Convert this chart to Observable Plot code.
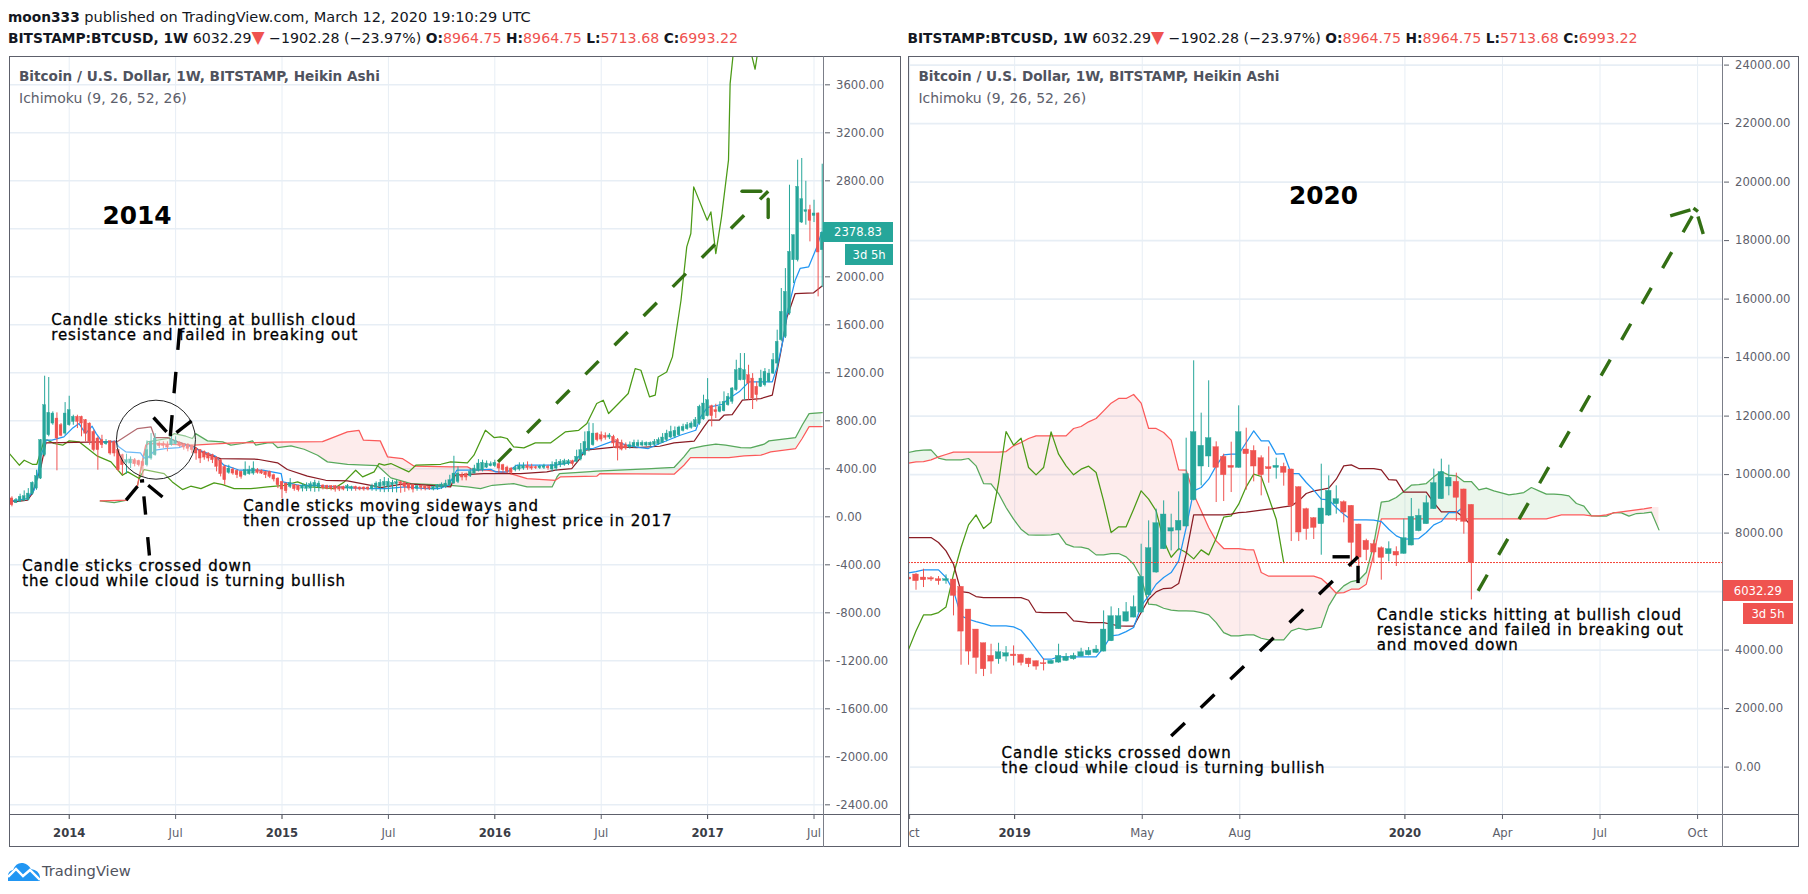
<!DOCTYPE html>
<html><head><meta charset="utf-8">
<script src="https://cdn.jsdelivr.net/npm/d3@7"></script>
<script src="https://cdn.jsdelivr.net/npm/@observablehq/plot@0.6"></script>
<style>
html,body{margin:0;padding:0;background:#fff;width:1808px;height:894px;overflow:hidden;font-family:"DejaVu Sans",sans-serif}
.t{position:absolute;white-space:nowrap;line-height:1;transform:translateY(-50%)}
.b{position:absolute;background:#5d606b}
.tag{position:absolute;color:#fff;font-size:11.6px;display:flex;align-items:center;justify-content:center}
.note{letter-spacing:.88px}
.h b{font-size:13.75px}
.tri{font-size:17px;line-height:0}
</style></head><body>
<script>
// ---------- LEFT PANEL (2014) : [open, high, low, close], week 0 = first bar of 2014
const leftFirstWeek=-14;
const leftCandles=[[151,165,81,95],[114,151,109,137],[123,187,117,165],[131,215,128,170],[137,234,131,192],[187,290,178,282],[234,388,220,338],[318,645,310,640],[514,1176,500,933],[681,1165,668,869],[779,877,765,863],[821,869,383,654],[765,779,668,676],[695,955,681,863],[765,1008,757,891],[793,849,765,835],[835,849,737,793],[835,841,668,779],[807,813,626,695],[779,785,598,626],[709,723,542,556],[654,668,388,556],[640,681,570,598],[606,645,598,626],[631,634,514,528],[626,634,500,528],[556,562,374,388],[514,522,346,430],[450,522,355,472],[444,500,402,478],[472,486,416,438],[466,472,416,430],[458,466,332,422],[430,634,416,556],[486,695,472,626],[514,695,506,654],[612,626,570,590],[606,626,570,590],[598,626,542,578],[598,681,590,645],[606,668,598,634],[618,626,578,590],[606,612,556,578],[598,612,542,567],[590,598,528,556],[570,578,472,528],[556,562,444,486],[542,550,472,494],[528,534,458,486],[514,522,444,472],[494,500,374,416],[472,478,332,355],[416,430,262,304],
[366,430,355,402],[394,408,346,360],[383,391,318,346],[374,380,313,332],[346,458,338,388],[355,422,346,388],[360,458,346,402],[388,402,355,366],[383,391,352,360],[374,380,318,346],[374,380,318,332],[346,355,290,310],[318,324,234,262],[290,296,150,226],[276,282,192,212],[248,318,234,282],[262,268,212,229],[257,262,206,220],[234,276,206,254],[232,282,209,257],[234,290,207,271],[248,304,203,282],[243,296,206,276],[260,265,223,237],[257,262,223,232],[254,260,215,232],[254,260,204,226],[248,254,209,226],[248,254,215,226],[234,268,209,254],[232,254,212,248],[248,254,212,232],[243,248,215,226],[243,248,212,226],[243,248,215,226],[232,271,212,254],[240,290,209,276],[248,310,203,282],[257,327,200,290],[248,318,203,290],[262,304,200,282],[271,304,198,287],[287,296,195,271],[282,290,203,248],[271,276,215,234],[262,268,198,226],[232,262,212,254],[257,262,215,240],[251,257,215,232],[248,254,218,232],[226,254,215,248],[237,268,220,260],[243,282,226,268],[248,304,234,276],[262,346,257,304],[276,505,270,360],[290,416,276,360],
[346,366,299,327],[355,363,299,327],[338,402,327,374],[360,430,355,402],[382,477,374,444],[388,472,374,450],[410,466,402,444],[422,458,416,438],[422,472,410,450],[438,450,360,402],[430,438,366,388],[410,422,360,374],[402,410,346,366],[388,430,374,405],[394,450,380,422],[402,450,388,422],[422,458,388,405],[416,438,388,402],[413,424,394,405],[405,430,394,419],[408,438,394,422],[416,430,388,405],[394,458,374,430],[402,477,380,450],[430,477,410,458],[433,480,422,463],[438,477,427,463],[463,472,422,438],[458,556,450,500],[478,612,466,556],[514,709,506,625],[556,785,542,709],[598,779,589,695],[695,701,626,640],[681,709,626,645],[676,701,640,659],[662,695,645,679],[668,681,570,612],[640,654,466,570],[617,640,550,561],[597,617,556,570],[578,625,564,597],[584,640,570,617],[589,640,578,617],[595,634,584,617],[595,625,584,617],[595,625,584,617],[600,645,589,625],[606,659,598,640],[617,695,612,662],[640,723,626,695],[662,757,653,709],[668,751,653,718],[681,757,673,746],
[718,774,709,751],[732,788,723,765],[743,793,732,779],[751,830,746,807],[779,933,765,919],[813,1017,807,947],[841,1156,835,975],[925,933,751,841],[891,941,821,874],[877,961,869,919],[883,1045,877,961],[933,1031,925,1003],[961,1081,941,1073],[1059,1310,1050,1226],[1142,1366,1137,1240],[1142,1366,975,1226],[1184,1268,975,1114],[1156,1198,897,989],[1087,1128,961,1017],[1087,1226,1081,1156],[1100,1240,1087,1212],[1128,1232,1120,1198],[1198,1366,1190,1310],[1282,1562,1226,1464],[1478,1911,1464,1715],[1506,2078,1492,1883],[1701,2777,1687,2218],[2148,2358,1953,2358],[2148,2987,2134,2763],[2464,3001,2456,2660],[2553,2810,2442,2567],[2567,2609,2302,2478],[2520,2651,2464,2540],[2540,2545,1841,2213],[2232,2953,1919,2378.83]];
const leftTicks=[0,26,52,78,104,130,156,182];
const leftTickLabels=["2014","Jul","2015","Jul","2016","Jul","2017","Jul"];
const leftPriceTicks=[-2400,-2000,-1600,-1200,-800,-400,0,400,800,1200,1600,2000,2400,2800,3200,3600];
const leftPriceHidden=[2400];
const leftTenkanW=[-15,-10.3,-8.6,-7.8,-7,-5.6,-4.2,-1.3,0.7,2.4,4,5.6,6.6,8.1,9.3,11.3,12.1,13.8,17.4,18.2,19,21,23.5,26.8,28.4,30,31.7,35.7,37.8,39.2,41.6,47.3,51.8,52.2,56.2,60.3,65.1,69.2,73.3,77.3,82.2,87.1,90.3,92.7,94.7,98.1,103,104.2,107,109.4,118.8,123.2,126.5,128,133,136.2,139.5,141.5,144.3,149.3,153.1,154.3,155.9,159.6,161.2,163.7,166.1,171.8,173,174.6,175.4,177.4,178.6,180.7,182.7,183.9];
const leftTenkanP=[123,151,220,332,500,640,640,668,737,779,695,757,695,626,626,631,584,542,533,494,486,556,570,578,598,584,556,506,430,416,388,388,360,290,262,262,248,240,234,234,248,234,234,262,388,388,396,374,374,430,430,458,570,570,634,598,578,570,612,681,723,835,913,941,989,1045,1129,1129,1254,1506,1701,1981,2079,2093,2260,2386];
const leftKijunW=[-14.6,-13.4,-10.2,-9,-6.9,-5.7,11.8,16.7,20,20.9,24,26.5,30.5,33,37,46,50.9,53.3,58.2,62.7,68,73.7,76.1,82.2,93.2,94.3,101.3,110.3,116.7,118.8,122.8,124.5,126.1,129.7,133.8,138.7,144.3,147.8,152.7,155.1,156.3,158.8,160,162,164.5,169,171.8,173.8,175.4,177.4,181.9,183.9];
const leftKijunP=[156,123,137,193,416,617,628,737,751,662,662,626,584,528,486,480,450,394,338,304,299,262,243,276,248,346,360,360,374,388,402,472,556,570,584,578,589,617,631,751,807,807,849,855,975,989,1017,1366,1673,1869,1875,1931];
const leftLagW=[-14.6,-12.2,-11,-9,-7.9,-6.1,-5.3,-3.7,-1.6,0,2.4,4.5,6.9,10.2,13,14.3,17.1,18.3,23.2,25.2,27.7,29.7,32.2,35.4,37.5,40.3,44.4,48.5,52.5,55.8,59,64.7,67.2,70,71.7,74.5,75.7,77,78.6,83,84.7,90.8,93.2,97.3,98.9,101.7,103.8,105.4,107,108.6,111.1,113.9,117.6,121.2,124.5,126.5,128.9,130.5,131.8,133.8,136.6,138.3,139.7,141.8,143.2,143.9,146,147.4,149.5,150.9,151.9,152.6,155.9,156.8,158,159.4,161.1,161.5,162.2,164,166,166.8,167.6,168.1,170];
const leftLagP=[528,430,472,438,438,640,640,612,598,634,626,570,506,458,346,374,318,394,360,290,226,254,234,282,268,234,234,248,262,290,248,234,290,388,332,374,444,430,444,374,430,438,458,450,514,723,662,668,654,584,575,617,617,709,723,779,947,975,863,933,1031,1240,1226,1003,1017,1170,1212,1338,1813,2260,2372,2763,2484,2553,2204,2512,2987,3629,3861,4300,4300,3861,3749,3861,4300];
const leftSpanAW=[7.6,11,14.1,16.7,18.2,19.1,24,25.7,28.5,30.1,30.9,33.8,37.5,39.5,42.3,44.8,45.6,48.5,49.7,50.9,54.2,57.4,60.7,63.1,68,75.3,78.6,83.5,93.2,97.3,100.5,103.4,108.6,111.9,118,119.2,119.8,126.5,128.9,141.1,147.8,150.2,151.8,155.1,158,160.4,164.1,166.5,169.8,171,177.5,179.1,180.8,184];
const leftSpanAP=[131,117,137,262,500,626,654,695,673,654,695,634,626,598,612,634,598,617,617,578,592,564,514,458,438,427,324,276,262,248,234,262,276,248,248,332,360,374,380,400,411,500,570,592,606,598,578,575,606,634,662,765,863,871];
const leftSpanBW=[7.6,14.1,16.7,17.9,18.7,19.5,30.5,34.6,40.3,50.1,61.9,68,70.8,71.9,76,77.8,81.4,84.3,93.2,97.3,98.9,102.1,107.8,111.9,118.8,120,128.9,129.7,147.8,150.2,151.8,161.2,164.9,169,171.4,177.5,179.1,180.8,184];
const leftSpanBP=[131,137,262,472,598,612,598,606,617,623,628,709,723,640,634,500,486,422,416,416,388,388,360,318,304,332,338,360,355,430,494,494,508,514,542,570,654,754,754];
const leftCircleWeek=[21.2], leftCirclePrice=[644];
const leftBullArrowW=[104.8,170.8], leftBullArrowP=[458,2727];
const leftBullHead1W=[164.4,169], leftBullHead1P=[2727,2727];
const leftBullHead2W=[170.8,170.8], leftBullHead2P=[2506,2660];
const leftTopArrowW=[27,24.7], leftTopArrowP=[1576,675];
const leftTopHeads=[[20.6,830,23.8,709],[29.9,801,26.2,704]];
const leftLowArrowW=[19.6,17.9], leftLowArrowP=[-327,296];
const leftLowHeads=[[13.9,137,16.7,254],[22.8,164,19.3,262],[17.3,297,18.3,300]];
const leftNotes=[["Candle sticks hitting at bullish cloud",-4.4,1645],["resistance and failed in breaking out",-4.4,1520],["Candle sticks moving sideways and",42.5,86],["then crossed up the cloud for highest price in 2017",42.5,-39],["Candle sticks crossed down",-11.5,-417],["the cloud while cloud is turning bullish",-11.5,-542]];

// ---------- RIGHT PANEL (2020) : [open, high, low, close], week 0 = first bar of 2019
const rightFirstWeek=-14;
const rightCandles=[[6480,6537,6309,6412],[6583,6617,6047,6355],[6480,6765,6138,6389],[6457,6514,6343,6412],[6423,6514,6218,6355],[6366,6571,6252,6423],[6412,6412,5169,5853],[6161,6161,3482,4633],[5386,5386,3482,3949],[4702,4702,3174,3733],[4234,4234,3094,3345],[3801,4200,3174,3607],[3687,4234,3516,3926],[3778,4120,3596,3892],[3847,4143,3459,3790],[3835,3858,3459,3562],[3710,3721,3402,3516],[3619,3630,3311,3436],[3550,3710,3288,3516],[3527,3653,3516,3630],[3573,4200,3550,3801],[3630,3881,3607,3767],[3687,3892,3653,3801],[3778,4063,3767,3926],[3824,4086,3801,3972],[3904,4154,3881,4018],[3949,5340,3938,4702],[4303,5477,4291,5158],[4713,5420,4713,5158],[4975,5625,4964,5294],[5112,5853,5101,5465],[5283,7620,5272,6503],[5876,8418,5853,7483],[6651,8817,6628,8338],[7449,9102,7437,8635],[8053,8646,7392,8167],[8087,9410,7392,8418],[8224,11245,8213,10014],[9125,13890,9102,11450],[10276,12100,9615,10983],[10618,13206,10242,11245],[10937,11120,9045,10231],[10607,10698,9079,9980],[10299,11108,9387,10231],[10231,12351,10219,11450],[10858,11587,9467,10698],[10812,10983,9752,10276],[10561,10641,9273,9980],[10253,10949,9706,10185],[10231,10561,9843,10299],[10265,10390,9604,10060],[10174,10185,7711,8931],[9569,9581,7711,8019],[8817,8851,7757,8133],[8509,8532,7780,8179],[8304,10356,7244,8840],[8600,9957,8566,9444],[8988,9615,8646,9159],[9056,9102,8350,8703],[8931,8942,6822,7666],[8293,8304,6765,7164],[7735,7792,7051,7416],[7621,7758,6994,7336],[7484,7530,6390,7154],[7279,7701,7017,7450],[7359,7530,6857,7233],[7290,8476,7279,7826],[7575,9183,7564,8556],[8066,8818,8043,8590],[8305,9274,8305,9023],[8818,10186,8807,9707],[9160,10528,9149,10083],[9593,10323,9274,9890],[9753,10049,8396,9206],[9491,9502,7963,8385],[8964.75,8964.75,5713.68,6993.22]];
const rightTicks=[-14,0,17,30,52,65,78,91];
const rightTickLabels=["Oct","2019","May","Aug","2020","Apr","Jul","Oct"];
const rightPriceTicks=[0,2000,4000,6000,8000,10000,12000,14000,16000,18000,20000,22000,24000];
const rightPriceHidden=[6000];
const rightTenkan=[6640,6685,6742,6742,6742,6480,6024,5169,5055,4975,4907,4827,4827,4827,4793,4679,4371,4029,3687,3687,3767,3767,3767,3767,3767,3767,4086,4485,4519,4633,4770,5511,5853,6252,6480,6651,7050,8190,9444,9558,9843,10299,10675,10698,10698,11097,11496,11154,11154,10698,10721,10037,10037,9729,9467,9159,9136,8874,8646,8452,8452,8452,8441,8395,8133,7905,7791,7802,7814,8019,8281,8395,8703,8703,8897];
const rightKijun=[7848,7848,7848,7848,7677,7392,6936,6001,5967,5830,5796,5796,5796,5796,5796,5796,5705,5294,5283,5283,5283,5283,4998,4975,4941,4941,4941,4884,4827,4816,4816,5283,5739,5990,6104,6115,6275,7278,8623,8623,8623,8623,8623,8646,8703,8714,8749,8783,8817,8851,8897,8931,9102,9353,9444,9490,9535,9843,10299,10333,10208,10208,10208,10162,9832,9809,9398,9398,9398,9398,9045,8726,8726,8726,8532,8247];
const rightLag=[4018,4656,5203,5203,5283,5477,6594,7506,8281,8623,8156,8372,9729,11473,11006,11245,10242,9991,10242,11462,10698,10299,9991,10185,10288,10071,9102,8019,8213,8213,8817,9444,9159,8760,7734,7175,7472,7335,7118,7426,7255,7825,8543,8589,8988,9581,10014,9934,9216,8475,6993];
const rightSpanA=[10755,10812,10835,10846,10561,10504,10504,10504,10550,10299,9695,9683,9353,8874,8475,8133,7939,7928,7928,7939,7985,7620,7529,7517,7460,7255,7255,7301,7301,7187,6936,6480,5568,5545,5431,5363,5340,5340,5329,5283,5203,4941,4599,4485,4485,4519,4519,4405,4348,4348,4348,4656,4747,4690,4736,4781,5511,5933,6195,6343,6389,6651,7620,9056,9091,9216,9421,9638,9661,9695,9923,10105,9980,9957,9763,9763,9478,9535,9444,9376,9307,9341,9387,9558,9444,9330,9330,9319,9273,9011,8920,8589,8578,8578,8703,8692,8578,8669,8680,8714,8110];
const rightSpanB=[10390,10436,10447,10504,10607,10687,10766,10766,10766,10766,10766,10766,10766,10789,10983,11097,11234,11325,11325,11325,11325,11325,11576,11644,11804,11918,12180,12442,12602,12602,12739,12442,11576,11576,11439,11177,10162,10151,9330,8760,8190,7734,7472,7472,7472,7438,7426,6651,6526,6526,6526,6526,6526,6526,6526,6446,6218,5944,5967,6081,6081,6252,7278,8486,8486,8486,8486,8486,8486,8486,8486,8486,8486,8486,8486,8486,8486,8486,8486,8486,8486,8486,8486,8486,8486,8486,8555,8623,8623,8623,8623,8589,8589,8623,8692,8726,8760,8794,8828,8874];
const rightLastClose=[6993.22];
const rightBullArrowW=[61.9,91], rightBullArrowP=[6027,19087];
const rightBullHeads=[[87.5,18848,90.2,19053],[90.6,19111,91.2,18995],[91.9,18222,91.2,18824]];
const rightBearArrowW=[21,45.9], rightBearArrowP=[1060,7190];
const rightBearHeads=[[42.5,7190,44.8,7190],[45.9,6291,45.9,6882]];
const rightNotes=[["Candle sticks hitting at bullish cloud",48.4,5183],["resistance and failed in breaking out",48.4,4670],["and moved down",48.4,4157],["Candle sticks crossed down",-1.6,489],["the cloud while cloud is turning bullish",-1.6,-24]];

// ---------- TEXT
const byline=["moon333"," published on TradingView.com, March 12, 2020 19:10:29 UTC"];
const symbol="BITSTAMP:BTCUSD, 1W";
const lastPrice="6032.29", changeText="−1902.28 (−23.97%)";
const ohlc=[["O:","8964.75"],["H:","8964.75"],["L:","5713.68"],["C:","6993.22"]];
const legend1="Bitcoin / U.S. Dollar, 1W, BITSTAMP, Heikin Ashi", legend2="Ichimoku (9, 26, 52, 26)";

const UP="#26a69a",DN="#ef5350",GRID="#e7eef5",AXIS="#5d606b",BULL="#336f14";
const axFont="DejaVu Sans";

// The left prices above were read against a 0.1193 px/unit grid; the axis itself runs at 0.12 px/unit.
const lc=v=>v*.9942+2.5, lca=a=>a.map(lc), lc4=r=>r.map(lc), lcs=rows=>rows.map(lc4);

function candles(rows,first,half,wick){
  const d=rows.map((r,k)=>({w:first+k,o:r[0],h:r[1],l:r[2],c:r[3]}));
  const up=d.filter(x=>x.c>=x.o),dn=d.filter(x=>x.c<x.o),m=[];
  for(const [set,col] of [[up,UP],[dn,DN]]){
    m.push(Plot.ruleX(set,{x:"w",y1:"l",y2:"h",stroke:col,strokeWidth:wick}));
    m.push(Plot.rect(set,{x1:x=>x.w-half,x2:x=>x.w+half,y1:"o",y2:"c",fill:col,stroke:col,strokeWidth:.4}));
  }
  return m;
}
function cloud(aw,ap,bw,bp,from,to){
  const A=d3.scaleLinear().domain(aw).range(ap).clamp(true),B=d3.scaleLinear().domain(bw).range(bp).clamp(true);
  const s=d3.range(from,to+.001,.25).map(w=>{const a=A(w),b=B(w);return {w,a,b,top:Math.max(a,b)}});
  return [Plot.areaY(s,{x:"w",y1:"a",y2:"top",fill:DN,fillOpacity:.11}),
          Plot.areaY(s,{x:"w",y1:"b",y2:"top",fill:"#4caf50",fillOpacity:.11})];
}
const ln=(x,y,stroke,opt={})=>Plot.line(y,{x,y,stroke,strokeWidth:1.25,curve:"linear",...opt});
const dash=(x,y,stroke,da)=>Plot.line(y,{x,y,stroke,strokeWidth:3.4,strokeDasharray:da,strokeLinecap:"butt"});
const heads=(rows,stroke,sw=3.4)=>Plot.link(rows,{x1:d=>d[0],y1:d=>d[1],x2:d=>d[2],y2:d=>d[3],stroke,strokeWidth:sw});
const notes=(rows)=>Plot.text(rows,{x:d=>d[1],y:d=>d[2],text:d=>d[0],textAnchor:"start",lineAnchor:"middle",fontSize:15,fontFamily:axFont,fill:"#000",stroke:"#000",strokeWidth:.3,className:"note"});
function axes(priceTicks,hidden,ticks,labels,gridShift){
  const lab=new Map(ticks.map((t,k)=>[t+gridShift,labels[k]]));
  const sh=ticks.map(t=>t+gridShift);
  const yrs=sh.filter(t=>/^\d/.test(lab.get(t))),mon=sh.filter(t=>!/^\d/.test(lab.get(t)));
  const fmt=t=>lab.get(t);
  return {
    grid:[Plot.gridX({ticks:sh,stroke:GRID,strokeOpacity:1,strokeWidth:1}),
          Plot.gridY({ticks:priceTicks,stroke:GRID,strokeOpacity:1,strokeWidth:1.6})],
    axis:[Plot.axisY({anchor:"right",ticks:priceTicks.filter(t=>!hidden.includes(t)),tickSize:5,tickPadding:6.6,color:AXIS,fontSize:11.6,fontFamily:axFont,label:null,
            tickFormat:d=>d3.format(".2f")(d).replace("−","-")}),
          Plot.axisX({anchor:"bottom",ticks:yrs,tickFormat:fmt,tickSize:4,tickPadding:9,color:"#3a3d46",fontWeight:"bold",fontSize:11.6,fontFamily:axFont,label:null}),
          Plot.axisX({anchor:"bottom",ticks:mon,tickFormat:fmt,tickSize:4,tickPadding:9,color:AXIS,fontSize:11.6,fontFamily:axFont,label:null})]
  };
}
function mount(left,top,marks,xd,yd,w,mr){
  const p=Plot.plot({width:w,height:791,marginLeft:0,marginRight:mr,marginTop:0,marginBottom:32,
    x:{type:"linear",domain:xd},y:{type:"linear",domain:yd},
    style:{background:"transparent",overflow:"hidden",maxWidth:"none",fontFamily:axFont},marks});
  p.style.position="absolute";p.style.left=left+"px";p.style.top=top+"px";p.style.overflow="hidden";
  document.body.appendChild(p);
}
// LEFT
const la=axes(leftPriceTicks,leftPriceHidden,leftTicks,leftTickLabels,0);
const headsL=rows=>rows.map(r=>[r[0],lc(r[1]),r[2],lc(r[3])]);
mount(8.6,55.7,[
  ...la.grid,
  ...cloud(leftSpanAW,lca(leftSpanAP),leftSpanBW,lca(leftSpanBP),7.6,184),
  ln(leftSpanAW,lca(leftSpanAP),"#58a85c"), ln(leftSpanBW,lca(leftSpanBP),"#fb5a5a"),
  ln(leftLagW,lca(leftLagP),"#4b9a16"), ln(leftKijunW,lca(leftKijunP),"#8a1c24"), ln(leftTenkanW,lca(leftTenkanP),"#2196f3"),
  ...candles(lcs(leftCandles),leftFirstWeek,.34,1),
  Plot.dot(leftCircleWeek,{x:leftCircleWeek,y:lca(leftCirclePrice),r:39.5,fill:"#fff",fillOpacity:.35,stroke:"#222",strokeWidth:1}),
  dash(leftBullArrowW,lca(leftBullArrowP),BULL,"18.7,22.5"),
  ln(leftBullHead1W,lca(leftBullHead1P),BULL,{strokeWidth:3.4}), ln(leftBullHead2W,lca(leftBullHead2P),BULL,{strokeWidth:3.4}),
  dash(leftTopArrowW,lca(leftTopArrowP),"#000","21.5,22"), heads(headsL(leftTopHeads),"#000"),
  dash(leftLowArrowW,lca(leftLowArrowP),"#000","18.5,22.5"), heads(headsL(leftLowHeads),"#000"),
  notes(leftNotes.map(n=>[n[0],n[1],lc(n[2])])),
  ...la.axis
],[-14.59,184.56],[-2489,3836],892,77);
// RIGHT
const ra=axes(rightPriceTicks,rightPriceHidden,rightTicks,rightTickLabels,.147);
const wk=(arr,f=-14)=>d3.range(f,f+arr.length);
mount(907.5,55.7,[
  ...ra.grid,
  ...cloud(wk(rightSpanA),rightSpanA,wk(rightSpanB),rightSpanB,-14,86),
  ln(wk(rightSpanA),rightSpanA,"#58a85c"), ln(wk(rightSpanB),rightSpanB,"#fb5a5a"),
  ln(wk(rightLag),rightLag,"#4b9a16"), ln(wk(rightKijun),rightKijun,"#8a1c24"), ln(wk(rightTenkan),rightTenkan,"#2196f3"),
  ...candles(rightCandles,rightFirstWeek,.37,1),
  Plot.ruleY(rightLastClose,{stroke:"#f44336",strokeWidth:1,strokeDasharray:"2,1"}),
  dash(rightBullArrowW,rightBullArrowP,BULL,"18.5,22.8"), heads(rightBullHeads,BULL),
  dash(rightBearArrowW,rightBearArrowP,"#000","19,22"), heads(rightBearHeads,"#000"),
  notes(rightNotes),
  ...ra.axis
],[-14,94.6],[-1655,24294],892,77);

// ---------- Chrome & text
function div(cls,css,html){const e=document.createElement("div");e.className=cls;e.style.cssText=css;if(html!=null)e.innerHTML=html;document.body.appendChild(e);return e;}
for(const [l,r,ax] of [[8.6,900.6,823.7],[907.5,1799.4,1722.7]]){
  const c="border:1px solid #5d606b;box-sizing:border-box;background:none;";
  div("b",`${c}left:${l}px;top:55.7px;width:${r-l}px;height:791.5px`);
  div("b",`left:${l}px;top:814.3px;width:${r-l}px;height:1px`);
  div("b",`left:${ax-.8}px;top:55.7px;width:1.6px;height:791.5px;background:#7b7e88`);
}
const hdr=`<b>${symbol}</b> ${lastPrice}<span class="tri" style="color:${DN}">▼</span> ${changeText} `+
  ohlc.map(([k,v])=>`<b>${k}</b><span style="color:${DN}">${v}</span>`).join(" ");
div("t h","left:8px;top:16.7px;font-size:14.54px;color:#131722",`<b>${byline[0]}</b>${byline[1]}`);
div("t h","left:8px;top:38.3px;font-size:14.2px;color:#131722",hdr);
div("t h","left:907.5px;top:38.3px;font-size:14.2px;color:#131722",hdr);
for(const x of [19,918.4]){
  div("t",`left:${x}px;top:76.7px;font-size:13.6px;font-weight:bold;color:#50535e`,legend1);
  div("t",`left:${x}px;top:97.7px;font-size:14px;color:#5d606b`,legend2);
}
div("t","left:102.6px;top:215.7px;font-size:24.8px;font-weight:bold;color:#000","2014");
div("t","left:1289.1px;top:195.7px;font-size:24.8px;font-weight:bold;color:#000","2020");
const tag=(l,t,w,h,c,s)=>div("tag",`left:${l}px;top:${t}px;width:${w}px;height:${h}px;background:${c}`,s);
tag(822.7,221.7,70.6,20.6,UP,"2378.83"); tag(845,244,48.3,21,UP,"3d 5h");
tag(1722.7,580.3,70.3,21,DN,lastPrice); tag(1743,603,50,21.3,DN,"3d 5h");
div("","position:absolute;left:8px;top:861px;width:32px;height:20px",
 `<svg width="32" height="20" viewBox="0 0 32 20"><path d="M0 20V15Q0 10 5 9Q8 1 15 2Q20 3 23 8Q31 9 32 16V20Z" fill="#2196f3"/><path d="M0 16L8 8L15 15L22 9L32 19" fill="none" stroke="#fff" stroke-width="2.4"/></svg>`);
div("t","left:42px;top:871px;font-size:14.7px;color:#50535e","TradingView");
</script>
</body></html>
